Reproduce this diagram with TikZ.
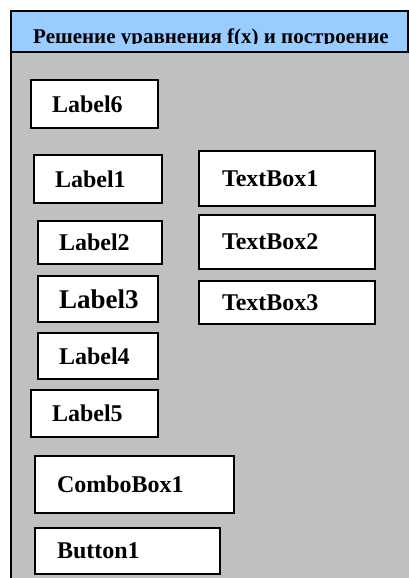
\documentclass[tikz,border=0pt]{standalone}
\usepackage{fontspec}
\setmainfont{Liberation Serif}
\definecolor{formblue}{HTML}{99CCFF}
\definecolor{formgray}{HTML}{C0C0C0}
\tikzstyle{ctrl}=[draw=black,fill=white,line width=1.3pt,inner xsep=21pt,align=left,font=\bfseries\fontsize{24}{26}\selectfont]
\tikzstyle{edit}=[ctrl,inner xsep=23pt]
\tikzstyle{frame}=[line width=1.5pt]

\begin{document}
\begin{tikzpicture}[x=1pt,y=-1pt]
\useasboundingbox (0,0) rectangle (409,578);
\fill[formgray] (11,52) rectangle (409,578);
\fill[formblue] (11,11) rectangle (408,52);
\begin{scope}
\clip (11,11) rectangle (408,44);
\node (title) [anchor=base west,inner sep=0pt,font=\bfseries\fontsize{21}{23}\selectfont] at (33,43.5) {Решение уравнения f(x) и построение};
\end{scope}
\draw[frame] (11,578) -- (11,11) -- (408,11) -- (408,52);
\draw[frame] (11,52) -- (409,52);
\node (L6) [ctrl,text width=85pt,minimum height=48pt]  at (94.5,104)   {Label6};
\node (L1) [ctrl,text width=86pt,minimum height=48pt]  at (98,179)     {Label1};
\node (L2) [ctrl,text width=82pt,minimum height=43pt]  at (100,242.5)  {Label2};
\node (L3) [ctrl,text width=78pt,minimum height=46pt,font=\bfseries\fontsize{27}{29}\selectfont] at (98,299) {Label3};
\node (L4) [ctrl,text width=78pt,minimum height=46pt]  at (98,356)     {Label4};
\node (L5) [ctrl,text width=85pt,minimum height=47pt]  at (94.5,413.5) {Label5};
\node (T1) [edit,text width=130pt,minimum height=55pt] at (287,178.5)  {TextBox1};
\node (T2) [edit,text width=130pt,minimum height=54pt] at (287,242)    {TextBox2};
\node (T3) [edit,text width=130pt,minimum height=43pt] at (287,302.5)  {TextBox3};
\node (CB) [edit,inner xsep=22pt,text width=155pt,minimum height=57pt] at (134.5,484.5) {ComboBox1};
\node (B1) [edit,inner xsep=22pt,text width=141pt,minimum height=46pt] at (127.5,551)   {Button1};
\end{tikzpicture}
\end{document}
